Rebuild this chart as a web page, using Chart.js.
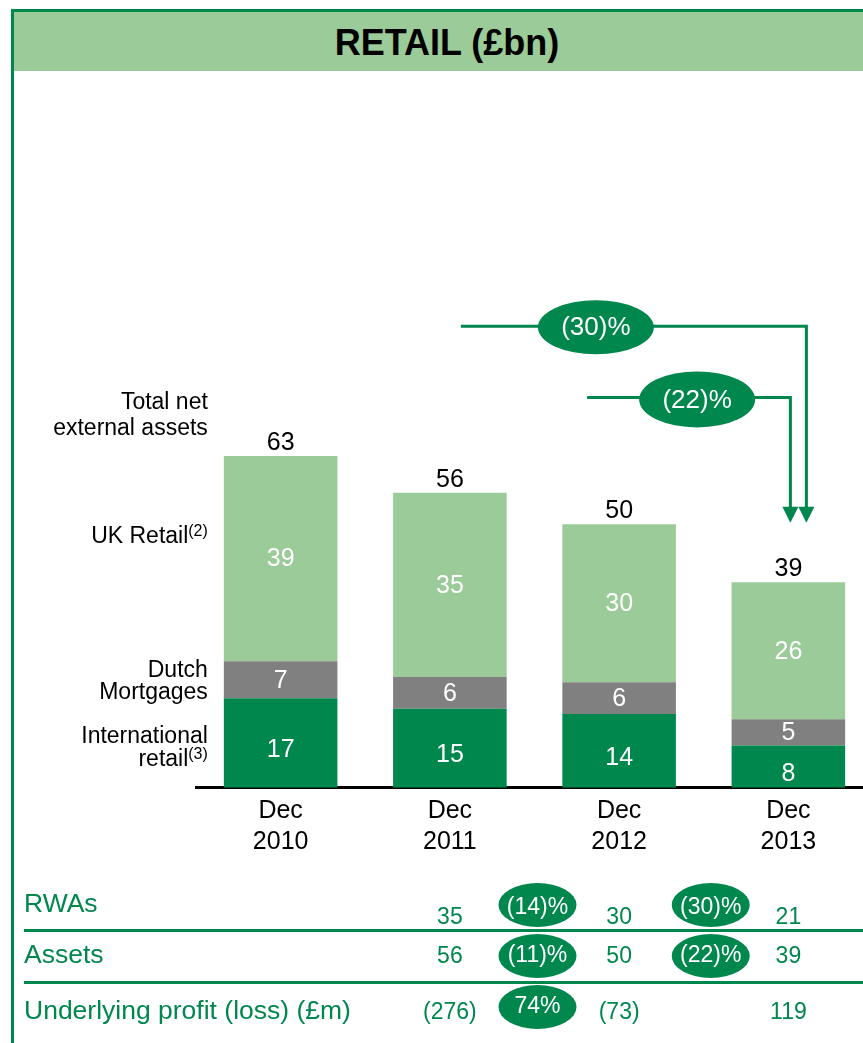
<!DOCTYPE html>
<html>
<head>
<meta charset="utf-8">
<script src="https://cdn.jsdelivr.net/npm/chart.js@4/dist/chart.umd.min.js"></script>
<style>
  html, body { margin: 0; padding: 0; background: #fff; overflow: hidden; width: 863px; height: 1043px; }
  .frame-left { position: absolute; left: 11px; top: 9px; width: 3px; height: 1034px; background: #00874D; }
  .frame-top { position: absolute; left: 11px; top: 9px; width: 852px; height: 3px; background: #00874D; }
  .header { position: absolute; left: 14px; top: 12px; width: 849px; height: 59px; background: #9BCB98; }
  .header h1 { margin: 0; position: absolute; left: 0; width: 866px; top: 0; text-align: center;
    font: bold 36px 'Liberation Sans', Arial, sans-serif; line-height: 62px; color: #000; }
  #wrap { position: absolute; left: 0; top: 0; width: 880px; height: 1043px; }
</style>
</head>
<body>
<div class="header"><h1>RETAIL (£bn)</h1></div>
<div class="frame-left"></div>
<div class="frame-top"></div>
<div id="wrap"><canvas id="chart" width="880" height="1043"></canvas></div>
<script>
// ── data ─────────────────────────────────────────────────────────────
const categories = [['Dec', '2010'], ['Dec', '2011'], ['Dec', '2012'], ['Dec', '2013']];
const internationalRetail = [17, 15, 14, 8];
const dutchMortgages = [7, 6, 6, 5];
const ukRetail = [39, 35, 30, 26];
const totalAssets = [63, 56, 50, 39];

// change in total assets: from Dec 2010 and from Dec 2012, to Dec 2013
const totalChange = [-30, -22];

// table below the chart (columns = Dec 2011, Dec 2012, Dec 2013)
const rowNames = ['RWAs', 'Assets', 'Underlying profit (loss) (£m)'];
const rwas = [35, 30, 21];
const assets = [56, 50, 39];
const underlyingProfit = [-276, -73, 119];
const rwaChange = [-14, -30];
const assetChange = [-11, -22];
const profitChange = [74, null];

const GREEN = '#00874D';
const LIGHT = '#9BCB98';
const GREY = '#808080';
const FONT = "'Liberation Sans', Arial, sans-serif";

const pct = v => v < 0 ? '(' + (-v) + ')%' : v + '%';
const num = v => v < 0 ? '(' + (-v) + ')' : String(v);

function pill(ctx, cx, cy, rx, ry, text, size, dy) {
    ctx.save();
    ctx.fillStyle = GREEN;
    ctx.beginPath();
    ctx.ellipse(cx, cy, rx, ry, 0, 0, Math.PI * 2);
    ctx.fill();
    ctx.fillStyle = '#fff';
    ctx.font = size + 'px ' + FONT;
    ctx.textAlign = 'center';
    ctx.textBaseline = 'middle';
    ctx.fillText(text, cx, cy + (dy || 0));
    ctx.restore();
}

// right aligned text with optional superscript
function sideText(ctx, xRight, y, text, sup) {
    ctx.font = '23px ' + FONT;
    ctx.textAlign = 'right';
    ctx.textBaseline = 'middle';
    ctx.fillStyle = '#000';
    let x = xRight;
    if (sup) {
        ctx.font = '16px ' + FONT;
        ctx.fillText(sup, x, y - 5);
        x -= ctx.measureText(sup).width;
        ctx.font = '23px ' + FONT;
    }
    ctx.fillText(text, x, y);
}

const annotations = {
    id: 'annotations',
    afterDatasetsDraw(chart) {
        const ctx = chart.ctx;
        const xs = chart.scales.x, ys = chart.scales.y;
        const metas = [0, 1, 2].map(i => chart.getDatasetMeta(i));

        // segment values (labels sit a little low in the dark segment)
        const labelNudge = [7, 1, 1];
        ctx.save();
        ctx.font = '25px ' + FONT;
        ctx.textAlign = 'center';
        ctx.textBaseline = 'middle';
        ctx.fillStyle = '#fff';
        metas.forEach((meta, i) => {
            const vals = chart.data.datasets[i].data;
            meta.data.forEach((bar, j) => {
                ctx.fillText(String(vals[j]), bar.x, (bar.y + bar.base) / 2 + labelNudge[i]);
            });
        });

        // totals above bars
        ctx.fillStyle = '#000';
        ctx.font = '25px ' + FONT;
        ctx.textBaseline = 'alphabetic';
        totalAssets.forEach((v, j) => {
            ctx.fillText(String(v), xs.getPixelForValue(j), ys.getPixelForValue(v) - 6);
        });

        // series names left of the first bar
        const b0 = metas[0].data[0], b1 = metas[1].data[0], b2 = metas[2].data[0];
        const xr = b0.x - b0.width / 2 - 16;
        const mid = b => (b.y + b.base) / 2;
        sideText(ctx, xr, mid(b0) - 6, 'International');
        sideText(ctx, xr, mid(b0) + 17, 'retail', '(3)');
        sideText(ctx, xr, mid(b1) - 9, 'Dutch');
        sideText(ctx, xr, mid(b1) + 13, 'Mortgages');
        sideText(ctx, xr, mid(b2) - 22, 'UK Retail', '(2)');
        const top0 = ys.getPixelForValue(totalAssets[0]);
        sideText(ctx, xr, top0 - 53, 'Total net');
        sideText(ctx, xr, top0 - 27, 'external assets');

        // change arrows into Dec 2013
        const last = xs.getPixelForValue(3);
        const tip = ys.getPixelForValue(50.3);
        const arrows = [
            { x0: xs.getPixelForValue(1) + 11, x1: last + 18, y: ys.getPixelForValue(87.6), cx: xs.getPixelForValue(1) + 146, ry: 27 },
            { x0: xs.getPixelForValue(2) - 32, x1: last + 2, y: ys.getPixelForValue(74.1), cx: xs.getPixelForValue(2) + 78, ry: 28 }
        ];
        ctx.strokeStyle = GREEN;
        ctx.fillStyle = GREEN;
        ctx.lineWidth = 3;
        arrows.forEach((a, i) => {
            ctx.beginPath();
            ctx.moveTo(a.x0, a.y);
            ctx.lineTo(a.x1, a.y);
            ctx.lineTo(a.x1, tip - 14);
            ctx.stroke();
            ctx.beginPath();
            ctx.moveTo(a.x1 - 8, tip - 16);
            ctx.lineTo(a.x1 + 8, tip - 16);
            ctx.lineTo(a.x1, tip);
            ctx.closePath();
            ctx.fill();
            pill(ctx, a.cx, a.y + 1 + i, 58, a.ry, pct(totalChange[i]), 26, 1);
        });

        // table
        const rowY = [905, 956, 1012];
        const valY = [918, 957, 1013];
        const pillY = [905, 956, 1007];
        ctx.fillStyle = GREEN;
        ctx.font = '26.5px ' + FONT;
        ctx.textAlign = 'left';
        ctx.textBaseline = 'middle';
        rowNames.forEach((n, r) => ctx.fillText(n, 24, rowY[r]));

        ctx.fillRect(24, 929, 863 - 24, 3);
        ctx.fillRect(24, 981, 863 - 24, 3);

        const rows = [rwas, assets, underlyingProfit];
        const changes = [rwaChange, assetChange, profitChange];
        rows.forEach((vals, r) => {
            vals.forEach((v, k) => {
                ctx.fillStyle = GREEN;
                ctx.font = '23px ' + FONT;
                ctx.textAlign = 'center';
                ctx.textBaseline = 'middle';
                ctx.fillText(num(v), xs.getPixelForValue(k + 1), valY[r]);
            });
            changes[r].forEach((c, k) => {
                if (c === null) return;
                const cx = (xs.getPixelForValue(k + 1) + xs.getPixelForValue(k + 2)) / 2 + 3 + k * 4;
                pill(ctx, cx, pillY[r], 39, 22, pct(c), 23, r === 0 ? 3 : 0);
            });
        });
        ctx.restore();
    }
};

new Chart(document.getElementById('chart'), {
    type: 'bar',
    data: {
        labels: categories,
        datasets: [
            { label: 'International retail', data: internationalRetail, backgroundColor: GREEN },
            { label: 'Dutch Mortgages', data: dutchMortgages, backgroundColor: GREY },
            { label: 'UK Retail', data: ukRetail, backgroundColor: LIGHT }
        ]
    },
    options: {
        responsive: false,
        animation: false,
        layout: { padding: { left: 196, right: 7, top: 261, bottom: 177.3 } },
        datasets: { bar: { categoryPercentage: 1, barPercentage: 0.671, borderWidth: 0 } },
        plugins: { legend: { display: false }, tooltip: { enabled: false } },
        scales: {
            x: {
                stacked: true,
                grid: { display: false, drawTicks: false },
                border: { display: true, color: '#000', width: 3 },
                ticks: { color: '#000', padding: 8, maxRotation: 0, autoSkip: false,
                         font: { family: FONT, size: 25, lineHeight: 1.24 } }
            },
            y: { stacked: true, display: false, min: 0, max: 100 }
        }
    },
    plugins: [annotations]
});
</script>
</body>
</html>
